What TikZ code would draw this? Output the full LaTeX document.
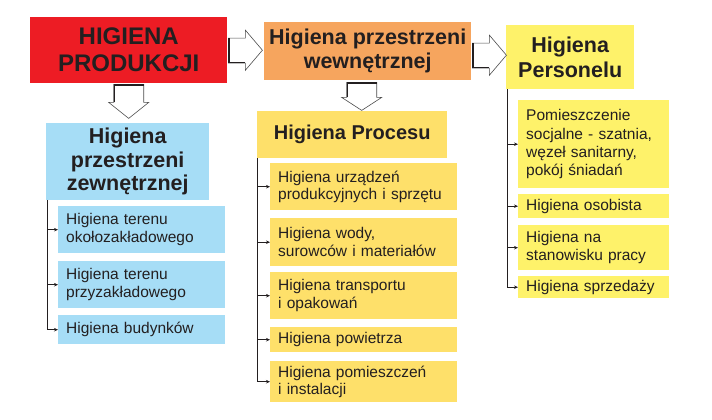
\documentclass[tikz,border=0pt]{standalone}
\usepackage{fontspec}
\setmainfont{Liberation Sans}
\usetikzlibrary{arrows.meta,calc}
\definecolor{ink}{HTML}{231F20}
\definecolor{cred}{HTML}{ED1C24}
\definecolor{corange}{HTML}{F6A55E}
\definecolor{cblue}{HTML}{A6DDF6}
\definecolor{cgold}{HTML}{FEE06A}
\definecolor{clemon}{HTML}{FEF26A}
\newcommand\hollowright[1]{%
  \begin{scope}[shift={(#1)}]
    \draw[hollow] (0,-12) -- (17,-12) -- (17,-20) -- (34,0) -- (17,20) -- (17,13) -- (0,13) -- cycle;
    \draw[shade3d] (0.8,-12) -- (0.8,12.2) -- (17,12.2);
  \end{scope}}
\newcommand\hollowdown[3]{%
  \begin{scope}[shift={(#1)}]
    \draw[hollow] (-15,0) -- (15,0) -- (15,#2) -- (20,#2) -- (0,#3) -- (-20,#2) -- (-15,#2) -- cycle;
    \draw[shade3d] (-14.2,#2) -- (-14.2,0.8) -- (15,0.8);
  \end{scope}}
\begin{document}
\begin{tikzpicture}[x=1pt,y=-1pt,
  ttl/.style={anchor=north west, inner sep=0pt, align=center, text=ink},
  item/.style={anchor=north west, inner xsep=8pt, inner ysep=0pt, align=left, text=ink,
    font=\fontsize{15.5}{17.5}\selectfont},
  conn/.style={line width=0.7pt, draw=ink, -{Stealth[length=4pt,width=3.5pt]}},
  hollow/.style={fill=white, draw=black!70, line width=0.6pt, line join=miter},
  shade3d/.style={draw=ink, line width=1.6pt}]
\useasboundingbox (0,0) rectangle (712,420);

% title boxes
\node[ttl, fill=cred, minimum width=197pt, minimum height=66pt,
  font=\fontsize{24}{27}\selectfont\bfseries] (red) at (30,17) {HIGIENA\\PRODUKCJI};
\node[ttl, fill=corange, minimum width=207pt, minimum height=58pt,
  font=\fontsize{21.5}{24}\selectfont\bfseries] (orange) at (264,22) {Higiena przestrzeni\\wewnętrznej};
\node[ttl, fill=clemon, minimum width=128pt, minimum height=64pt,
  font=\fontsize{21.5}{25}\selectfont\bfseries] (pers) at (506,25) {Higiena\\Personelu};
\node[ttl, fill=cblue, minimum width=163pt, minimum height=77pt,
  font=\fontsize{21.5}{23.5}\selectfont\bfseries] (blueT) at (46,123) {Higiena\\przestrzeni\\zewnętrznej};
\node[ttl, fill=cgold, minimum width=190pt, minimum height=47pt,
  font=\fontsize{20}{23}\selectfont\bfseries] (proc) at (257,111) {Higiena Procesu};

% blue items
\node[item, fill=cblue, text width=151pt, minimum height=47pt] (b1) at (58,206) {Higiena terenu\\okołozakładowego};
\node[item, fill=cblue, text width=151pt, minimum height=47pt] (b2) at (58,261) {Higiena terenu\\przyzakładowego};
\node[item, fill=cblue, text width=151pt, minimum height=29pt] (b3) at (58,315) {Higiena budynków};

% process items
\node[item, fill=cgold, text width=171pt, minimum height=47pt] (p1) at (270,163) {Higiena urządzeń\\produkcyjnych i sprzętu};
\node[item, fill=cgold, text width=171pt, minimum height=48pt] (p2) at (270,218) {Higiena wody,\\surowców i materiałów};
\node[item, fill=cgold, text width=171pt, minimum height=47pt] (p3) at (270,272) {Higiena transportu\\i opakowań};
\node[item, fill=cgold, text width=171pt, minimum height=25pt] (p4) at (270,327) {Higiena powietrza};
\node[item, fill=cgold, text width=171pt, minimum height=41pt] (p5) at (270,361) {Higiena pomieszczeń\\i instalacji};

% personnel items
\node[item, fill=clemon, text width=135pt, minimum height=88pt,
  font=\fontsize{15.5}{18.3}\selectfont] (s1) at (518,100) {Pomieszczenie\\socjalne - szatnia,\\węzeł sanitarny,\\pokój śniadań};
\node[item, fill=clemon, text width=135pt, minimum height=24pt] (s2) at (518,194) {Higiena osobista};
\node[item, fill=clemon, text width=135pt, minimum height=45pt] (s3) at (518,225) {Higiena na\\stanowisku pracy};
\node[item, fill=clemon, text width=135pt, minimum height=22pt] (s4) at (518,276) {Higiena sprzedaży};

% tree connectors
\draw[conn] ([xshift=1pt]blueT.south west) |- (b3.west);
\draw[conn] ([xshift=1pt]blueT.south west |- b1.west) -- (b1.west);
\draw[conn] ([xshift=1pt]blueT.south west |- b2.west) -- (b2.west);

\draw[conn] ([xshift=0.5pt]proc.south west) |- (p5.west);
\foreach \n in {p1,p2,p3,p4}
  \draw[conn] ([xshift=0.5pt]proc.south west |- \n.west) -- (\n.west);

\draw[conn] ([xshift=1pt]pers.south west) |- (s4.west);
\foreach \n in {s1,s2,s3}
  \draw[conn] ([xshift=1pt]pers.south west |- \n.west) -- (\n.west);

% hollow block arrows
\hollowright{$(red.east)+(1,0)$}
\hollowright{$(orange.east)+(1,4)$}
\hollowdown{$(red.south)+(0,1)$}{18}{34}
\hollowdown{$(orange.south)+(-6,2)$}{15}{28}
\end{tikzpicture}
\end{document}
